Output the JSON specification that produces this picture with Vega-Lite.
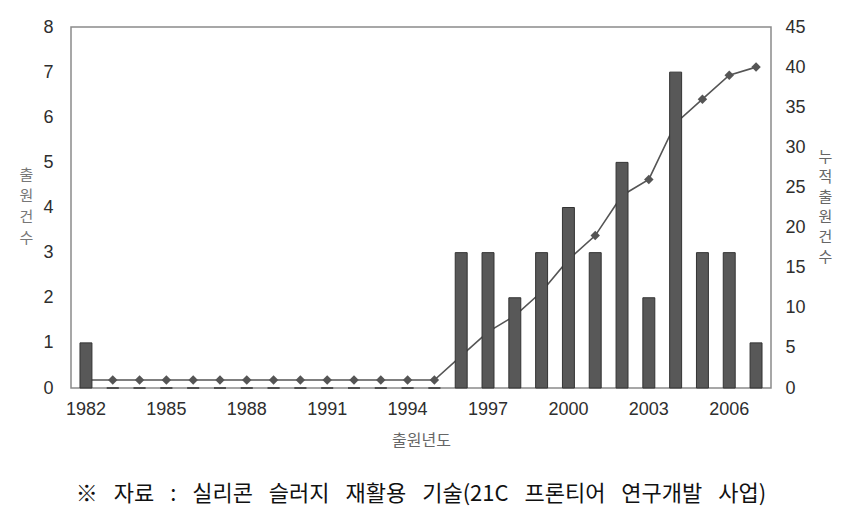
{
  "$schema": "https://vega.github.io/schema/vega-lite/v6.json",
  "width": 700,
  "height": 361,
  "autosize": "none",
  "padding": {"left": 71, "top": 27, "right": 83, "bottom": 135},
  "background": "white",
  "config": {
    "view": {"stroke": "#8a8a8a", "strokeWidth": 1.5},
    "font": "Liberation Sans"
  },
  "title": {
    "text": "※\u2002 자료\u2002 :\u2002 실리콘\u2002 슬러지\u2002 재활용\u2002 기술(21C\u2002 프론티어\u2002 연구개발\u2002 사업)",
    "orient": "bottom",
    "anchor": "middle",
    "font": "Noto Sans CJK KR",
    "fontSize": 22,
    "fontWeight": "normal",
    "color": "#111111",
    "offset": 36
  },
  "data": {
    "values": [
      {"year": 1982, "count": 1, "cum": 1},
      {"year": 1983, "count": 0, "cum": 1},
      {"year": 1984, "count": 0, "cum": 1},
      {"year": 1985, "count": 0, "cum": 1},
      {"year": 1986, "count": 0, "cum": 1},
      {"year": 1987, "count": 0, "cum": 1},
      {"year": 1988, "count": 0, "cum": 1},
      {"year": 1989, "count": 0, "cum": 1},
      {"year": 1990, "count": 0, "cum": 1},
      {"year": 1991, "count": 0, "cum": 1},
      {"year": 1992, "count": 0, "cum": 1},
      {"year": 1993, "count": 0, "cum": 1},
      {"year": 1994, "count": 0, "cum": 1},
      {"year": 1995, "count": 0, "cum": 1},
      {"year": 1996, "count": 3, "cum": 4},
      {"year": 1997, "count": 3, "cum": 7},
      {"year": 1998, "count": 2, "cum": 9},
      {"year": 1999, "count": 3, "cum": 12},
      {"year": 2000, "count": 4, "cum": 16},
      {"year": 2001, "count": 3, "cum": 19},
      {"year": 2002, "count": 5, "cum": 24},
      {"year": 2003, "count": 2, "cum": 26},
      {"year": 2004, "count": 7, "cum": 33},
      {"year": 2005, "count": 3, "cum": 36},
      {"year": 2006, "count": 3, "cum": 39},
      {"year": 2007, "count": 1, "cum": 40}
    ]
  },
  "encoding": {
    "x": {
      "field": "year",
      "type": "ordinal",
      "scale": {"paddingInner": 0.554, "paddingOuter": 0.335},
      "axis": {
        "values": [1982, 1985, 1988, 1991, 1994, 1997, 2000, 2003, 2006],
        "labelAngle": 0,
        "labelFont": "Liberation Sans",
        "labelFontSize": 18,
        "labelFontWeight": "normal",
        "labelColor": "#2e2e2e",
        "labelPadding": 12,
        "ticks": false,
        "domain": false,
        "title": "출원년도",
        "titleFont": "Noto Sans CJK KR",
        "titleFontSize": 16,
        "titleFontWeight": "normal",
        "titleColor": "#666666",
        "titlePadding": 14
      }
    }
  },
  "layer": [
    {
      "mark": {
        "type": "line",
        "color": "#555555",
        "strokeWidth": 1.6,
        "point": {"shape": "diamond", "size": 90, "filled": true, "color": "#555555"}
      },
      "encoding": {
        "y": {
          "field": "cum",
          "type": "quantitative",
          "scale": {"domain": [0, 45]},
          "axis": {
            "orient": "right",
            "values": [0, 5, 10, 15, 20, 25, 30, 35, 40, 45],
            "grid": false,
            "ticks": false,
            "domain": false,
            "labelFont": "Liberation Sans",
            "labelFontSize": 18,
            "labelColor": "#2e2e2e",
            "labelPadding": 14,
            "title": ["누", "적", "출", "원", "건", "수"],
            "titleAngle": 0,
            "titleFont": "Noto Sans CJK KR",
            "titleFontSize": 15,
            "titleFontWeight": "normal",
            "titleColor": "#666666",
            "titleLineHeight": 20,
            "titleAlign": "center",
            "titleBaseline": "top",
            "titleX": 54,
            "titleY": 122
          }
        }
      }
    },
    {
      "mark": {"type": "bar", "color": "#585858", "stroke": "#333333", "strokeWidth": 1},
      "encoding": {
        "y": {
          "field": "count",
          "type": "quantitative",
          "scale": {"domain": [0, 8]},
          "axis": {
            "orient": "left",
            "values": [0, 1, 2, 3, 4, 5, 6, 7, 8],
            "grid": false,
            "ticks": false,
            "domain": false,
            "labelFont": "Liberation Sans",
            "labelFontSize": 18,
            "labelFontWeight": "normal",
            "labelColor": "#2e2e2e",
            "labelPadding": 18,
            "title": ["출", "원", "건", "수"],
            "titleAngle": 0,
            "titleFont": "Noto Sans CJK KR",
            "titleFontSize": 15,
            "titleFontWeight": "normal",
            "titleColor": "#777777",
            "titleLineHeight": 21,
            "titleAlign": "center",
            "titleBaseline": "top",
            "titleX": -45,
            "titleY": 140
          }
        }
      }
    }
  ],
  "resolve": {"scale": {"y": "independent"}}
}
